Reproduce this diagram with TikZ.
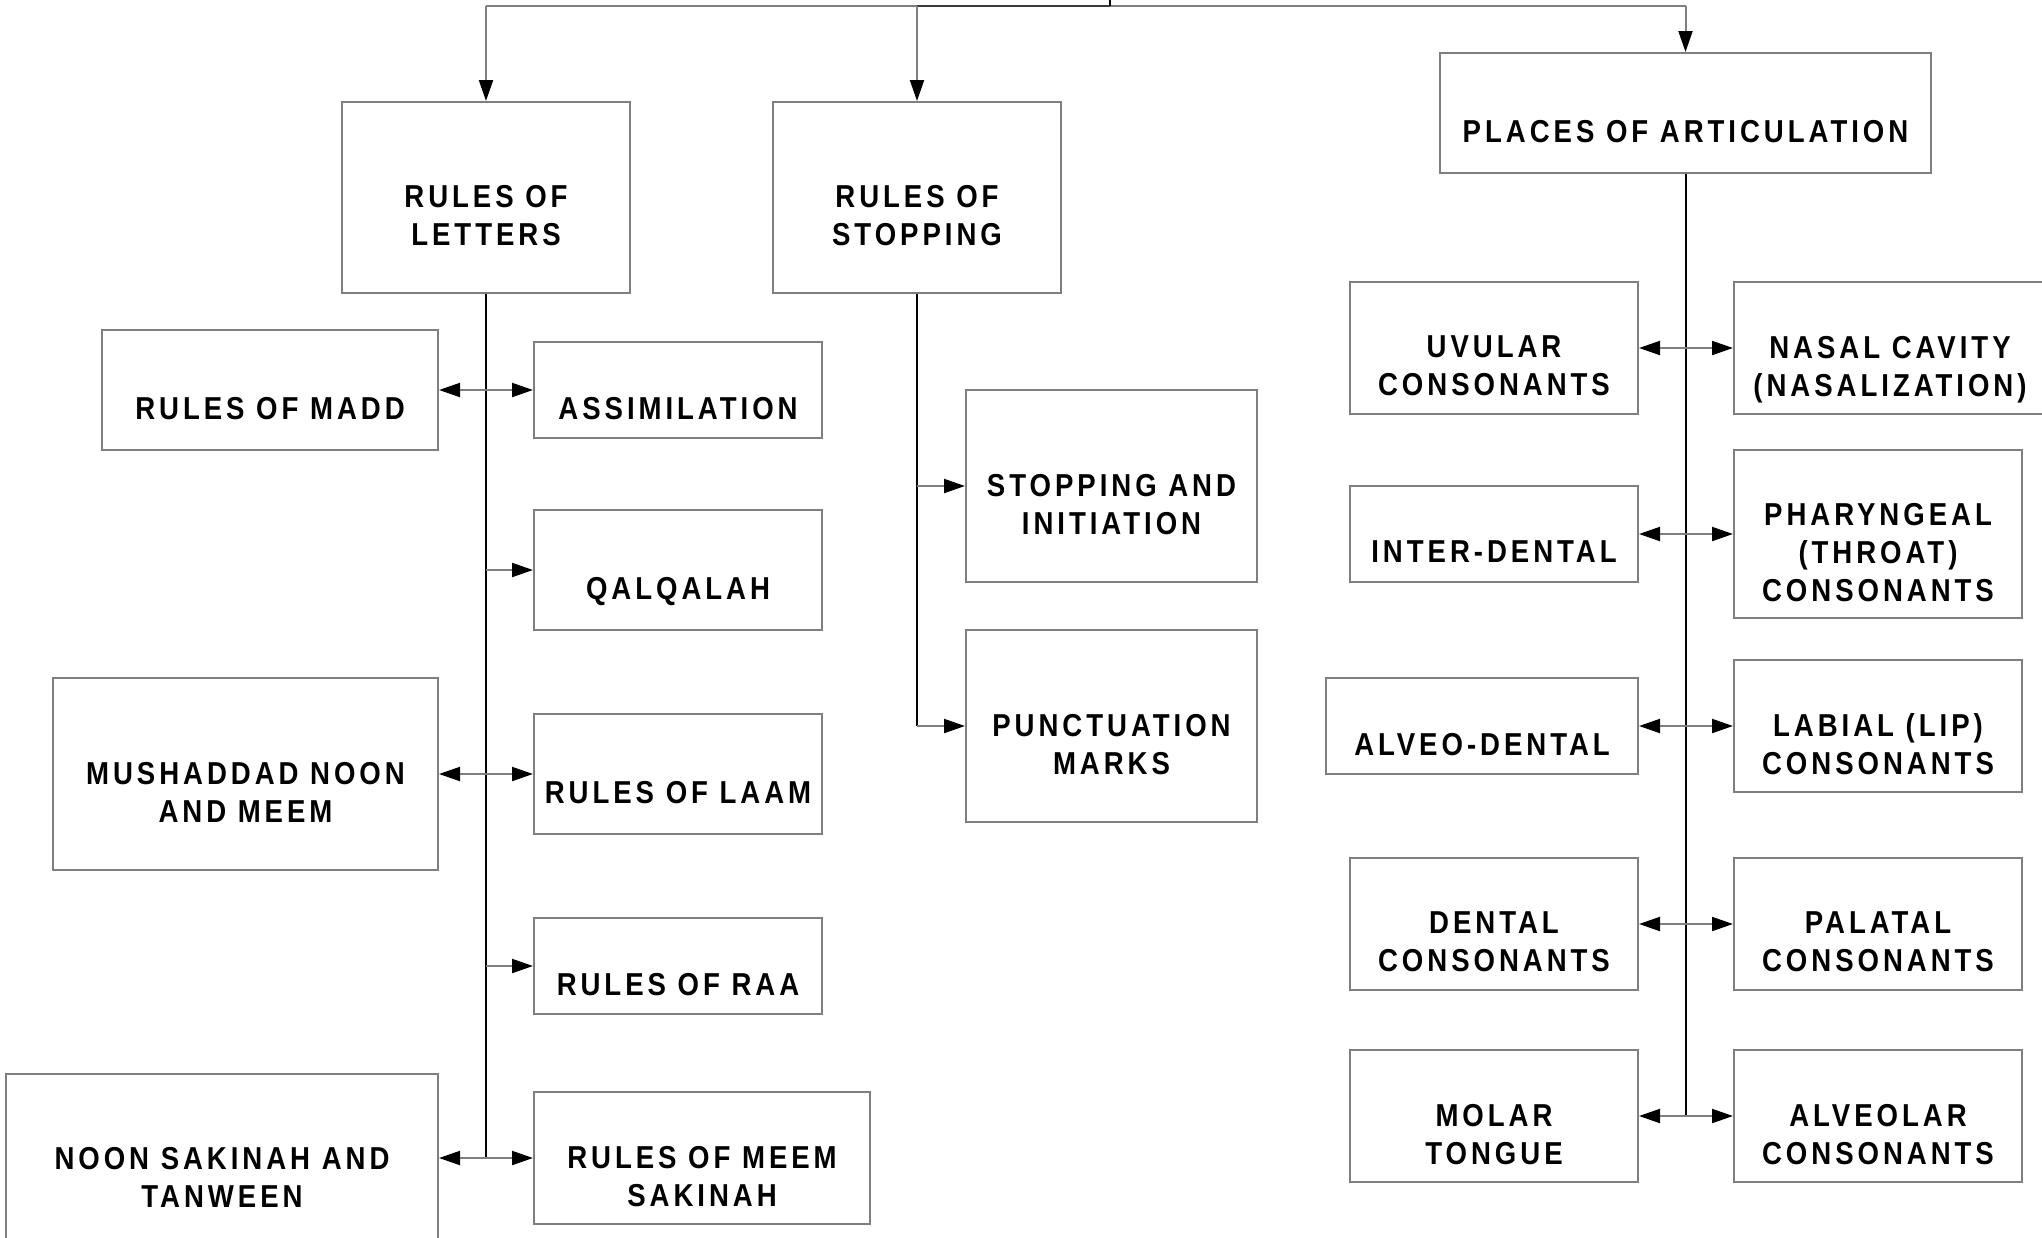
\documentclass[tikz,border=0pt]{standalone}
\usepackage{fontspec}
\newfontfamily\labelfont{Liberation Sans}[FakeStretch=0.87,LetterSpace=12.5]
\usetikzlibrary{fit,arrows.meta}
\definecolor{linegray}{HTML}{7F7F7F}
\definecolor{darkline}{HTML}{3A3A3A}
\begin{document}
\begin{tikzpicture}[x=0.5pt,y=-0.5pt,
  box/.style={draw=linegray,line width=1pt,inner sep=0pt},
  txt/.style={font=\labelfont\bfseries\fontsize{15.85pt}{19pt}\selectfont,align=center,inner sep=0pt,text depth=0pt},
  trunk/.style={draw=black,line width=1pt},
  arr/.style={draw=linegray,line width=1pt,-{Triangle[length=10.5pt,width=7pt,color=black]}},
  darr/.style={draw=linegray,line width=1pt,{Triangle[length=10.5pt,width=7pt,color=black]}-{Triangle[length=10.5pt,width=7pt,color=black]}}]
\useasboundingbox (0,0) rectangle (2042,1238);
\fill[white] (0,0) rectangle (2042,1238);

% top level boxes
\node[box,fit={(342,102) (630,293)}] (letters) {};
\node[txt] (letters-t) at ([yshift=-9pt]letters.center) {RULES OF\\LETTERS};
\node[box,fit={(773,102) (1061,293)}] (stopping) {};
\node[txt] (stopping-t) at ([yshift=-9pt]stopping.center) {RULES OF\\STOPPING};
\node[box,fit={(1440,53) (1931,173)}] (places) {};
\node[txt] (places-t) at ([yshift=-9pt]places.center) {PLACES OF ARTICULATION};

% letters branch
\node[box,fit={(102,330) (438,450)}] (madd) {};
\node[txt] (madd-t) at ([yshift=-9pt]madd.center) {RULES OF MADD};
\node[box,fit={(534,342) (822,438)}] (assim) {};
\node[txt] (assim-t) at ([yshift=-9pt]assim.center) {ASSIMILATION};
\node[box,fit={(534,510) (822,630)}] (qalq) {};
\node[txt] (qalq-t) at ([yshift=-9pt]qalq.center) {QALQALAH};
\node[box,fit={(53,678) (438,870)}] (mush) {};
\node[txt] (mush-t) at ([yshift=-9pt]mush.center) {MUSHADDAD NOON\\AND MEEM};
\node[box,fit={(534,714) (822,834)}] (laam) {};
\node[txt] (laam-t) at ([yshift=-9pt]laam.center) {RULES OF LAAM};
\node[box,fit={(534,918) (822,1014)}] (raa) {};
\node[txt] (raa-t) at ([yshift=-9pt]raa.center) {RULES OF RAA};
\node[box,fit={(6,1074) (438,1244)}] (noon) {};
\node[txt] (noon-t) at ([yshift=-9pt]noon.center) {NOON SAKINAH AND\\TANWEEN};
\node[box,fit={(534,1092) (870,1224)}] (meem) {};
\node[txt] (meem-t) at ([yshift=-9pt]meem.center) {RULES OF MEEM\\SAKINAH};

% stopping branch
\node[box,fit={(966,390) (1257,582)}] (stopinit) {};
\node[txt] (stopinit-t) at ([yshift=-9pt]stopinit.center) {STOPPING AND\\INITIATION};
\node[box,fit={(966,630) (1257,822)}] (punct) {};
\node[txt] (punct-t) at ([yshift=-9pt]punct.center) {PUNCTUATION\\MARKS};

% places branch
\node[box,fit={(1350,282) (1638,414)}] (uvular) {};
\node[txt] (uvular-t) at ([yshift=-9pt]uvular.center) {UVULAR\\CONSONANTS};
\node[box,fit={(1734,282) (2046,414)}] (nasal) {};
\node[txt] (nasal-t) at ([yshift=-9pt]nasal.center) {NASAL CAVITY\\(NASALIZATION)};
\node[box,fit={(1350,486) (1638,582)}] (inter) {};
\node[txt] (inter-t) at ([yshift=-9pt]inter.center) {INTER-DENTAL};
\node[box,fit={(1734,450) (2022,618)}] (phar) {};
\node[txt] (phar-t) at ([yshift=-9pt]phar.center) {PHARYNGEAL\\(THROAT)\\CONSONANTS};
\node[box,fit={(1326,678) (1638,774)}] (alveod) {};
\node[txt] (alveod-t) at ([yshift=-9pt]alveod.center) {ALVEO-DENTAL};
\node[box,fit={(1734,660) (2022,792)}] (labial) {};
\node[txt] (labial-t) at ([yshift=-9pt]labial.center) {LABIAL (LIP)\\CONSONANTS};
\node[box,fit={(1350,858) (1638,990)}] (dental) {};
\node[txt] (dental-t) at ([yshift=-9pt]dental.center) {DENTAL\\CONSONANTS};
\node[box,fit={(1734,858) (2022,990)}] (palatal) {};
\node[txt] (palatal-t) at ([yshift=-9pt]palatal.center) {PALATAL\\CONSONANTS};
\node[box,fit={(1350,1050) (1638,1182)}] (molar) {};
\node[txt] (molar-t) at ([yshift=-9pt]molar.center) {MOLAR\\TONGUE};
\node[box,fit={(1734,1050) (2022,1182)}] (alveolar) {};
\node[txt] (alveolar-t) at ([yshift=-9pt]alveolar.center) {ALVEOLAR\\CONSONANTS};

% top connectors
\coordinate (topstub) at (1110,0);
\coordinate (junc) at (1110,6);
\draw[draw=linegray,line width=1pt] (junc -| letters.north) -- (junc -| places.north);
\draw[draw=darkline,line width=1pt] (junc -| stopping.north) -- (junc);
\draw[trunk] (topstub) -- (junc);
\draw[arr] (junc -| letters.north) -- (letters.north);
\draw[arr] (junc -| stopping.north) -- (stopping.north);
\draw[arr] (junc -| places.north) -- (places.north);

% letters trunk and arrows
\draw[trunk] (letters.south) -- (letters.south |- meem.west);
\draw[darr] (madd.east) -- (assim.west);
\draw[arr] (letters.south |- qalq.west) -- (qalq.west);
\draw[darr] (mush.east |- laam.west) -- (laam.west);
\draw[arr] (letters.south |- raa.west) -- (raa.west);
\draw[darr] (noon.east |- meem.west) -- (meem.west);

% stopping trunk and arrows
\draw[trunk] (stopping.south) -- (stopping.south |- punct.west);
\draw[arr] (stopping.south |- stopinit.west) -- (stopinit.west);
\draw[arr] (stopping.south |- punct.west) -- (punct.west);

% places trunk and arrows
\draw[trunk] (places.south) -- (places.south |- molar.east);
\draw[darr] (uvular.east) -- (nasal.west);
\draw[darr] (inter.east) -- (phar.west);
\draw[darr] (alveod.east) -- (labial.west);
\draw[darr] (dental.east) -- (palatal.west);
\draw[darr] (molar.east) -- (alveolar.west);
\end{tikzpicture}
\end{document}
